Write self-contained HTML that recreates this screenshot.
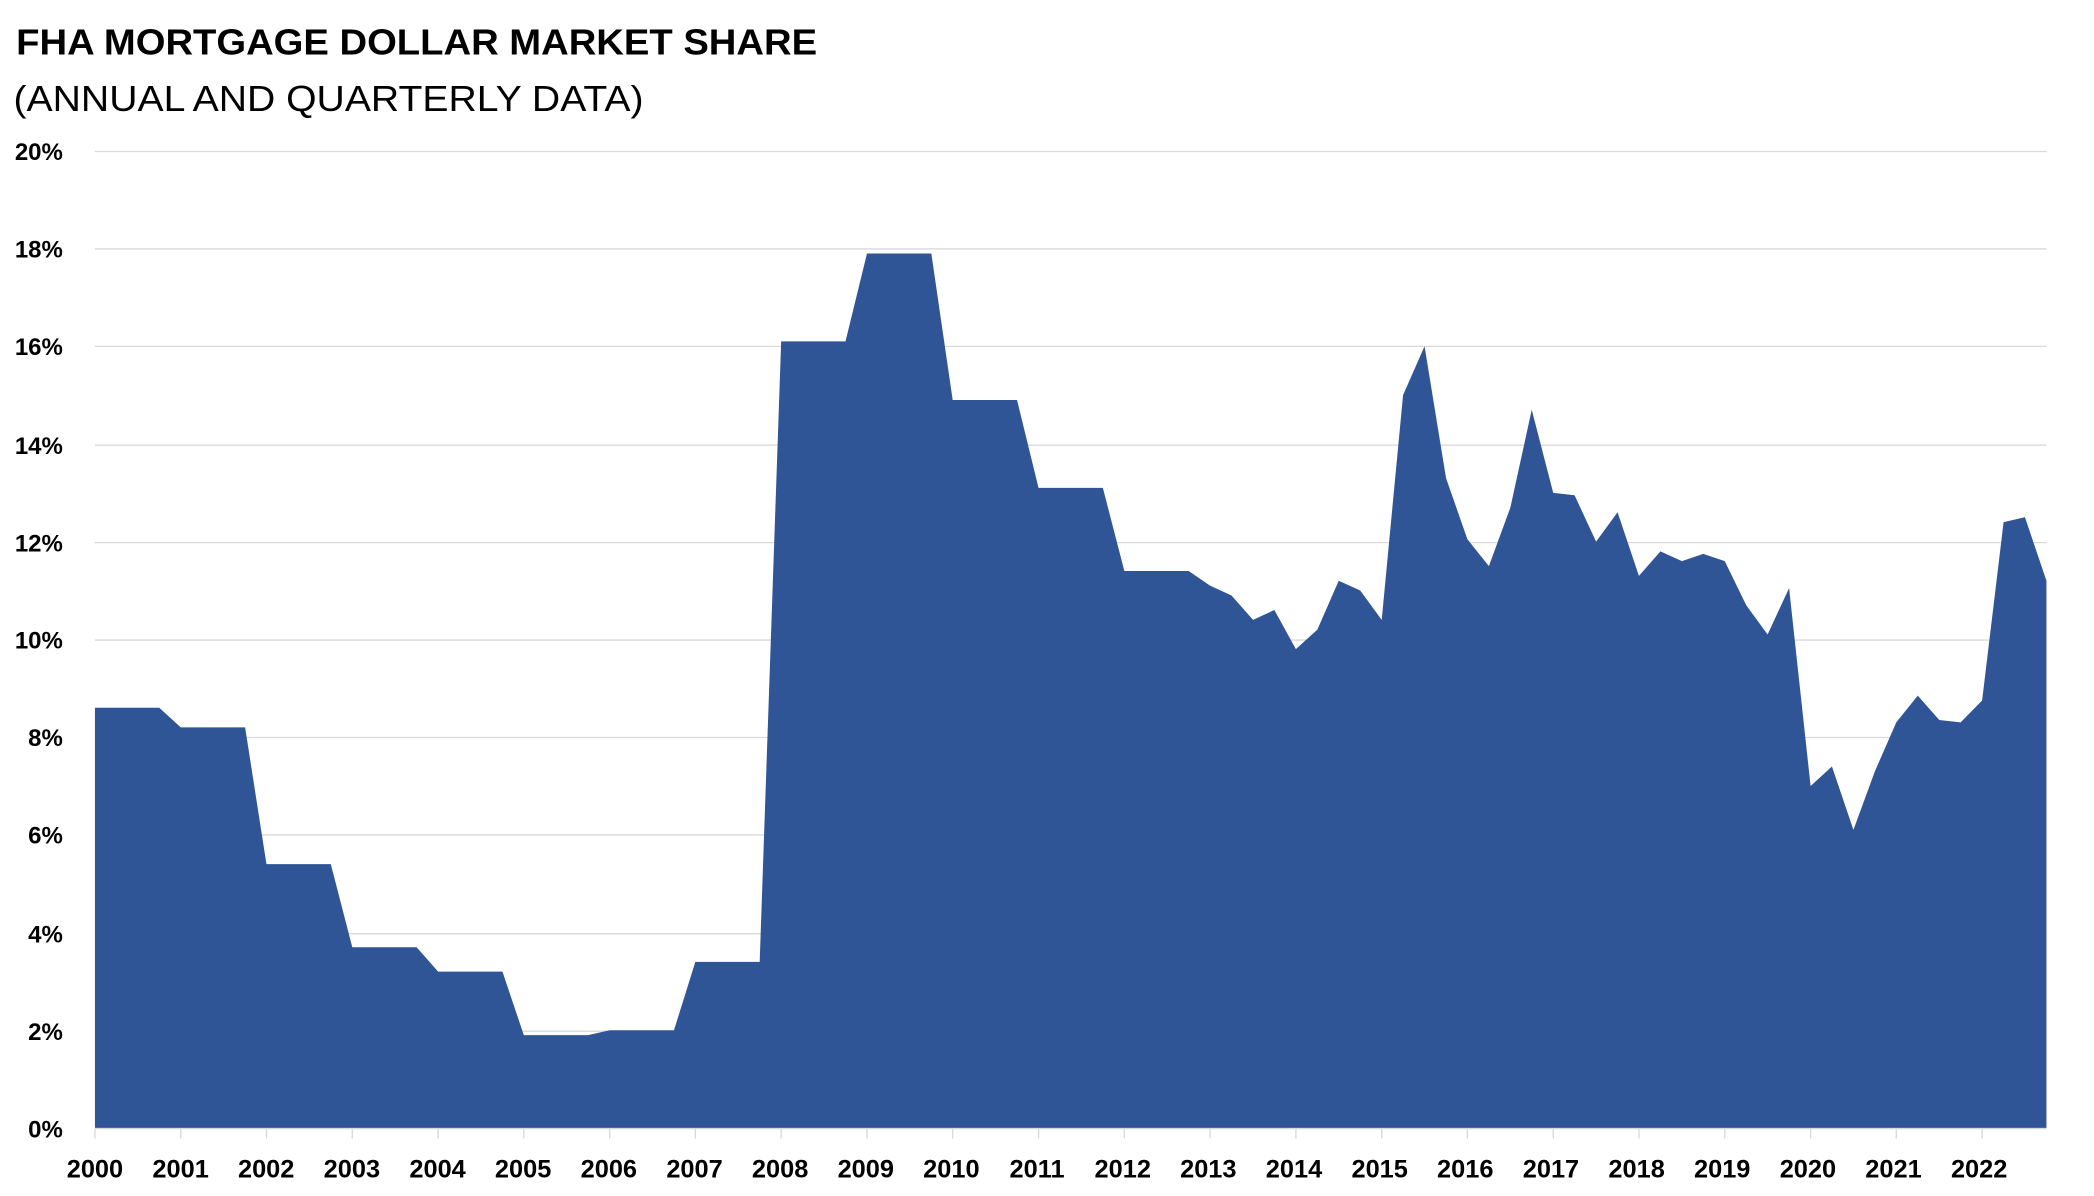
<!DOCTYPE html>
<html><head><meta charset="utf-8"><style>
html,body{margin:0;padding:0;background:#fff;}
svg{display:block;}
text{font-family:"Liberation Sans",sans-serif;}
</style></head><body>
<svg width="2094" height="1196" viewBox="0 0 1568.5 896" xmlns="http://www.w3.org/2000/svg">
<rect width="1568.5" height="896" fill="#fff"/>
<text x="12" y="41" font-size="27" font-weight="bold" fill="#000" textLength="600" lengthAdjust="spacingAndGlyphs">FHA MORTGAGE DOLLAR MARKET SHARE</text>
<text x="10" y="83" font-size="27" fill="#000" textLength="472" lengthAdjust="spacingAndGlyphs">(ANNUAL AND QUARTERLY DATA)</text>
<g stroke="#d9d9d9" stroke-width="1">
<line x1="71" x2="1533" y1="113.5" y2="113.5"/>
<line x1="71" x2="1533" y1="186.5" y2="186.5"/>
<line x1="71" x2="1533" y1="259.5" y2="259.5"/>
<line x1="71" x2="1533" y1="333.5" y2="333.5"/>
<line x1="71" x2="1533" y1="406.5" y2="406.5"/>
<line x1="71" x2="1533" y1="479.5" y2="479.5"/>
<line x1="71" x2="1533" y1="552.5" y2="552.5"/>
<line x1="71" x2="1533" y1="625.5" y2="625.5"/>
<line x1="71" x2="1533" y1="699.5" y2="699.5"/>
<line x1="71" x2="1533" y1="772.5" y2="772.5"/>
<line x1="71" x2="1533" y1="845.5" y2="845.5"/>
</g>
<g font-size="18" font-weight="bold" text-anchor="end" fill="#000">
<text x="47" y="120">20%</text><text x="47" y="193">18%</text><text x="47" y="266">16%</text>
<text x="47" y="340">14%</text><text x="47" y="413">12%</text><text x="47" y="486">10%</text>
<text x="47" y="559">8%</text><text x="47" y="632">6%</text><text x="47" y="706">4%</text>
<text x="47" y="779">2%</text><text x="47" y="852">0%</text>
</g>
<path id="area" fill="#2f5597"/>
<g id="ticks" stroke="#d9d9d9" stroke-width="1"></g>
<g font-size="19" font-weight="bold" text-anchor="middle" fill="#000">
<text x="71" y="882">2000</text><text x="135.2" y="882">2001</text><text x="199.3" y="882">2002</text>
<text x="263.5" y="882">2003</text><text x="327.7" y="882">2004</text><text x="391.8" y="882">2005</text>
<text x="456" y="882">2006</text><text x="520.2" y="882">2007</text><text x="584.3" y="882">2008</text>
<text x="648.5" y="882">2009</text><text x="712.6" y="882">2010</text><text x="776.8" y="882">2011</text>
<text x="841" y="882">2012</text><text x="905.1" y="882">2013</text><text x="969.3" y="882">2014</text>
<text x="1033.5" y="882">2015</text><text x="1097.6" y="882">2016</text><text x="1161.8" y="882">2017</text>
<text x="1226" y="882">2018</text><text x="1290.1" y="882">2019</text><text x="1354.3" y="882">2020</text>
<text x="1418.4" y="882">2021</text><text x="1482.6" y="882">2022</text>
</g>
<script>
var ann={2000:8.6,2001:8.2,2002:5.4,2003:3.7,2004:3.2,2005:1.9,2006:2.0,2007:3.4,2008:16.1,2009:17.9,2010:14.9,2011:13.1,2012:11.4};
var v=[];
for(var y=2000;y<=2012;y++)for(var q=0;q<4;q++)v.push(ann[y]);
v=v.concat([11.1,10.9,10.4,10.6, 9.8,10.2,11.2,11.0, 10.4,15.0,16.0,13.3, 12.05,11.5,12.7,14.7, 13.0,12.95,12.0,12.6, 11.3,11.8,11.6,11.75, 11.6,10.7,10.1,11.05, 7.0,7.4,6.1,7.3, 8.3,8.85,8.35,8.3, 8.75,12.4,12.5,11.2]);
var x0=71,dx=(1533-71)/(v.length-1);
function Y(p){return 845-p*36.6;}
var d="M71,845";
v.forEach(function(p,i){d+=" L"+(x0+i*dx).toFixed(1)+","+Y(p).toFixed(1);});
d+=" L1533,845 Z";
document.getElementById("area").setAttribute("d",d);
var NS="http://www.w3.org/2000/svg",g=document.getElementById("ticks");
for(var k=0;k<23;k++){var l=document.createElementNS(NS,"line");var x=(71+k*4*dx).toFixed(1);
l.setAttribute("x1",x);l.setAttribute("x2",x);l.setAttribute("y1","845.5");l.setAttribute("y2","853");g.appendChild(l);}
</script>
</svg>
</body></html>
